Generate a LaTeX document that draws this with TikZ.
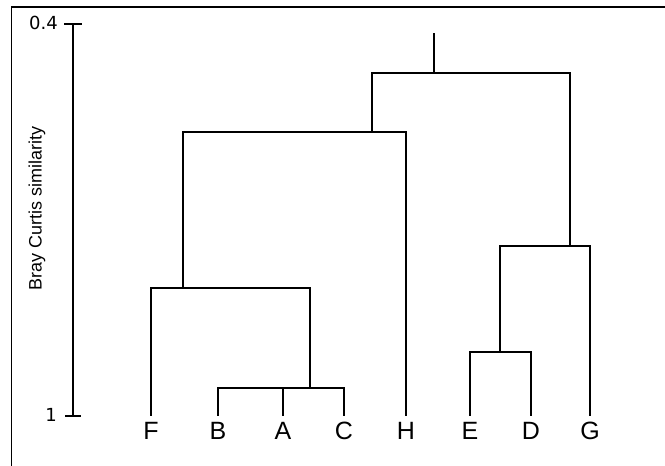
\documentclass[tikz,border=0pt]{standalone}
\usepackage{fontspec}
\setmainfont{Liberation Sans}
\newfontfamily\numfont{DejaVu Sans}
\begin{document}
\begin{tikzpicture}[x=1pt,y=-1pt,
  tree/.style={line width=1.8pt, line join=miter, line cap=rect},
  leaf/.style={font=\fontsize{25}{25}\selectfont, anchor=base, inner sep=0pt},
  axnum/.style={font=\numfont\fontsize{18}{18}\selectfont, inner sep=0pt},
  axlab/.style={font=\fontsize{18}{18}\selectfont, inner sep=0pt}]
\useasboundingbox (0,0) rectangle (665,466);
% frame
\draw[line width=1.8pt] (11.5,466) -- (11.5,7) -- (665,7);
% axis
\coordinate (atop) at (73,24);
\coordinate (abot) at (73,416);
\draw[tree] (atop) -- (abot);
\draw[tree] (65,24) -- (81,24);
\draw[tree] (66,416) -- (80,416);
\node[axnum, anchor=east] (l04) at (58,23) {0.4};
\node[axnum, anchor=east] (l1) at (57,415) {1};
\node[axlab, rotate=90] (ylab) at (37,208) {Bray Curtis similarity};
% leaves
\foreach \n/\x in {F/151,B/218,A/283,C/344,H/406,E/470,D/531,G/590}{
  \node[leaf] (n\n) at (\x,439) {\n};
  \coordinate (t\n) at (\x,415);
}
% merge points
\coordinate (p1) at (310,388);
\coordinate (p2) at (183,288);
\coordinate (p3) at (372,132);
\coordinate (p4) at (500,352);
\coordinate (p5) at (570,246);
\coordinate (p6) at (434,73);
\coordinate (root) at (434,34);
\draw[tree] (tB) |- (p1) -| (tC);
\draw[tree] (tA) -- (tA |- p1);
\draw[tree] (tF) |- (p2) -| (p1);
\draw[tree] (p2) |- (p3) -| (tH);
\draw[tree] (tE) |- (p4) -| (tD);
\draw[tree] (p4) |- (p5) -| (tG);
\draw[tree] (p3) |- (p6) -| (p5);
\draw[tree] (p6) -- (root);
\end{tikzpicture}
\end{document}
